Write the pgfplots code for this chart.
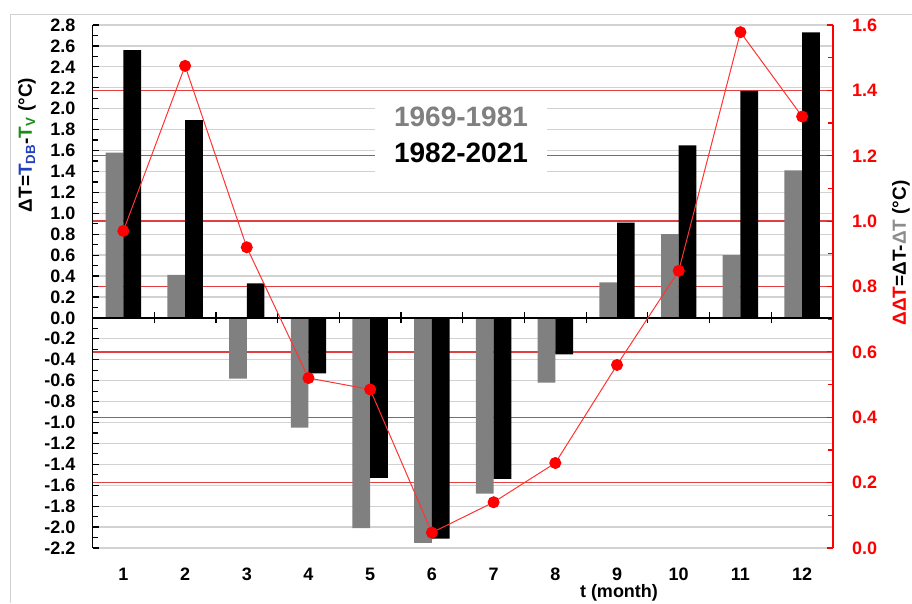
\documentclass[border=0pt]{standalone}
\usepackage{fontspec}
\setmainfont{Liberation Sans}
\usepackage{pgfplots}
\usepackage{pgfplotstable}
\pgfplotsset{compat=1.18}

\definecolor{barA}{HTML}{808080}
\definecolor{gridgray}{HTML}{D2D2D2}
\definecolor{gridred}{HTML}{E04040}
\definecolor{lineRed}{HTML}{FF0000}
\definecolor{labBlue}{HTML}{2040C0}
\definecolor{labGreen}{HTML}{1A8C1A}
\definecolor{labGray}{HTML}{8C8C8C}

% monthly temperature difference, two periods
\pgfplotstableread{
m early late
1 1.58 2.56
2 0.41 1.89
3 -0.58 0.33
4 -1.05 -0.53
5 -2.01 -1.53
6 -2.15 -2.11
7 -1.68 -1.54
8 -0.62 -0.35
9 0.34 0.91
10 0.80 1.65
11 0.60 2.17
12 1.41 2.73
}\dT

% change between the two periods
\pgfplotstableread{
m ddT
1 0.97
2 1.475
3 0.92
4 0.52
5 0.485
6 0.047
7 0.14
8 0.26
9 0.56
10 0.848
11 1.578
12 1.32
}\ddT

\newcommand{\tickfont}{\fontsize{18}{18}\selectfont\bfseries}

\pgfplotsset{
  base/.style={
    at={(92.5pt,55pt)}, anchor=south west,
    scale only axis, width=740.5pt, height=523pt,
    xmin=0.5, xmax=12.5,
    clip=false,
    /pgf/number format/assume math mode=true,
    tick align=inside,
  },
}

\begin{document}
\begin{tikzpicture}[x=1pt,y=1pt]
\useasboundingbox (0,0) rectangle (912,603);
\draw[gridgray, line width=0.8pt] (10,0) -- (10,589) -- (912,589);

% red grid of the right-hand scale
\begin{axis}[base, ymin=0, ymax=1.6,
  axis x line=none, axis y line*=right,
  xtick=\empty,
  y axis line style={draw=none},
  ytick={0.2,0.4,0.6,0.8,1.0,1.2,1.4}, yticklabels={},
  y tick style={draw=none},
  ymajorgrids, major grid style={gridred, line width=1.3pt},
]
\end{axis}

% bars, left-hand scale
\begin{axis}[base, ymin=-2.2, ymax=2.8,
  axis y line*=left, axis x line*=bottom,
  x axis line style={draw=none},
  xtick={1,...,12}, x tick style={draw=none},
  xticklabel style={font=\fontsize{18}{18}\selectfont\bfseries, anchor=base, inner sep=0pt, yshift=-32pt},
  ytick={-2.2,-2.0,...,2.8}, minor y tick num=1,
  major tick length=6pt, minor tick length=5pt,
  y axis line style={black, line width=1.8pt},
  y tick style={black, line width=1.2pt},
  yticklabel style={font=\tickfont, anchor=east, inner sep=0pt, xshift=-17pt,
    /pgf/number format/.cd, fixed, fixed zerofill, precision=1},
  ymajorgrids, major grid style={gridgray, line width=1.3pt},
]
\addplot[ybar, fill=barA, draw=none, bar width=0.287, bar shift=-0.1435]
  table[x=m, y=early] {\dT};
\addplot[ybar, fill=black, draw=none, bar width=0.287, bar shift=0.1435]
  table[x=m, y=late] {\dT};
\end{axis}

% zero line with ticks between months
\begin{axis}[base, ymin=-2.2, ymax=2.8,
  axis x line=middle, axis y line=none,
  xtick={1.5,2.5,...,11.5}, xticklabels={},
  x axis line style={black, line width=1.8pt, -},
  x tick style={black, line width=1.2pt},
  tick align=center, major tick length=11pt,
]
\end{axis}

% period key
\fill[white] (375,423) rectangle (547,503);
\node[font=\fontsize{28}{28}\selectfont\bfseries, text=barA] at (461,486) {1969-1981};
\node[font=\fontsize{28}{28}\selectfont\bfseries] at (461,450) {1982-2021};

% difference curve, right-hand scale
\begin{axis}[base, ymin=0, ymax=1.6,
  axis x line=none, axis y line*=right,
  xtick=\empty,
  ytick={0,0.2,...,1.6}, minor y tick num=1,
  major tick length=6pt, minor tick length=5pt,
  y axis line style={lineRed, line width=1.8pt},
  y tick style={lineRed, line width=1.2pt},
  yticklabel style={font=\tickfont, text=lineRed, anchor=west, inner sep=0pt, xshift=19pt,
    /pgf/number format/.cd, fixed, fixed zerofill, precision=1},
]
\addplot[color=lineRed!80, line width=1pt, mark=*, mark size=5.5pt,
  mark options={fill=lineRed, draw=lineRed}]
  table[x=m, y=ddT] {\ddT};
\end{axis}

% axis titles
\node[rotate=90, font=\fontsize{19}{19}\selectfont\bfseries] at (27,458)
  {ΔT=\textcolor{labBlue}{T\textsubscript{DB}}-\textcolor{labGreen}{T\textsubscript{V}} (°C)};
\node[rotate=90, font=\fontsize{19}{19}\selectfont\bfseries] at (901,350)
  {\textcolor{lineRed}{ΔΔT}=ΔT-\textcolor{labGray}{ΔT} (°C)};
\node[font=\fontsize{18}{18}\selectfont\bfseries, anchor=base] at (619,6) {t (month)};
\end{tikzpicture}
\end{document}
